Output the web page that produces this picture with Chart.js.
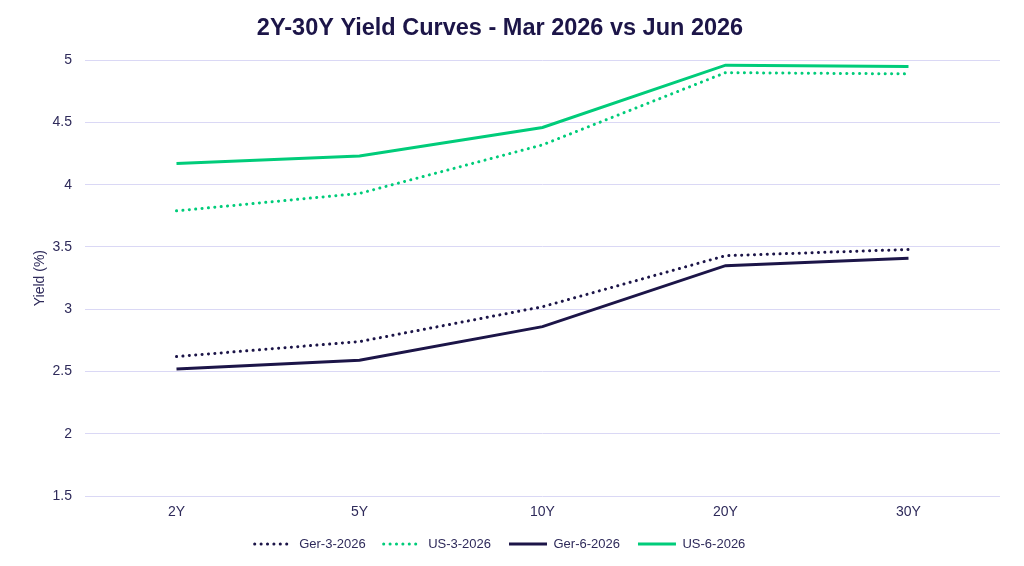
<!DOCTYPE html>
<html>
<head>
<meta charset="utf-8">
<script src="https://cdn.jsdelivr.net/npm/chart.js@4/dist/chart.umd.min.js"></script>
<style>
  html, body { margin: 0; padding: 0; background: #fff; }
  #wrap { width: 1024px; height: 566px; }
</style>
</head>
<body>
<div id="wrap"><canvas id="yieldChart"></canvas></div>
<script>
var tenors = ["2Y", "5Y", "10Y", "20Y", "30Y"];
var ger3 = [2.62, 2.74, 3.02, 3.43, 3.48];
var us3 = [3.79, 3.93, 4.32, 4.90, 4.89];
var ger6 = [2.52, 2.59, 2.86, 3.35, 3.41];
var us6 = [4.17, 4.23, 4.46, 4.96, 4.95];

var navy = "#1c1548";
var green = "#00cc7a";
var textCol = "#2e2a5a";
var font = "'Liberation Sans', Arial, sans-serif";

function series(label, values, color, dotted) {
  return {
    label: label,
    data: values,
    borderColor: color,
    backgroundColor: color,
    borderWidth: 3,
    borderDash: dotted ? [0.1, 6.3] : [],
    borderCapStyle: dotted ? "round" : "butt",
    pointRadius: 0,
    pointStyle: "line",
    tension: 0,
    fill: false
  };
}

new Chart(document.getElementById("yieldChart"), {
  type: "line",
  data: {
    labels: tenors,
    datasets: [
      series("Ger-3-2026", ger3, navy, true),
      series("US-3-2026", us3, green, true),
      series("Ger-6-2026", ger6, navy, false),
      series("US-6-2026", us6, green, false)
    ]
  },
  options: {
    responsive: true,
    maintainAspectRatio: false,
    animation: false,
    layout: { padding: { left: 0, right: 24, top: 6, bottom: 5.5 } },
    plugins: {
      title: {
        display: true,
        text: "2Y-30Y Yield Curves - Mar 2026 vs Jun 2026",
        color: navy,
        font: { family: font, size: 23.5, weight: "bold" },
        padding: { top: 8, bottom: 18 }
      },
      legend: {
        position: "bottom",
        labels: {
          usePointStyle: true,
          pointStyleWidth: 38,
          color: textCol,
          font: { family: font, size: 13 },
          padding: 18,
          generateLabels: function (chart) {
            var items = Chart.defaults.plugins.legend.labels.generateLabels(chart);
            items.forEach(function (it) {
              var ds = chart.data.datasets[it.datasetIndex];
              it.lineDash = ds.borderDash;
              it.lineCap = ds.borderCapStyle;
              it.pointStyle = "line";
            });
            return items;
          }
        }
      },
      tooltip: { enabled: false }
    },
    scales: {
      x: {
        offset: true,
        grid: { display: false, drawTicks: false },
        border: { display: false },
        ticks: { color: textCol, font: { family: font, size: 14 }, padding: 7.5 },
        afterFit: function (scale) { scale.height = 23.5; }
      },
      y: {
        min: 1.5,
        max: 5,
        grid: { color: "#dad8f5", lineWidth: 1, drawTicks: false },
        border: { display: false },
        ticks: {
          stepSize: 0.5,
          color: textCol,
          font: { family: font, size: 14 },
          padding: 13,
          callback: function (v) { return String(v); }
        },
        title: {
          display: true,
          text: "Yield (%)",
          color: textCol,
          font: { family: font, size: 14 },
          padding: { top: 32, bottom: 0 }
        },
        afterFit: function (scale) { scale.width = 85; }
      }
    }
  }
});
</script>
</body>
</html>
